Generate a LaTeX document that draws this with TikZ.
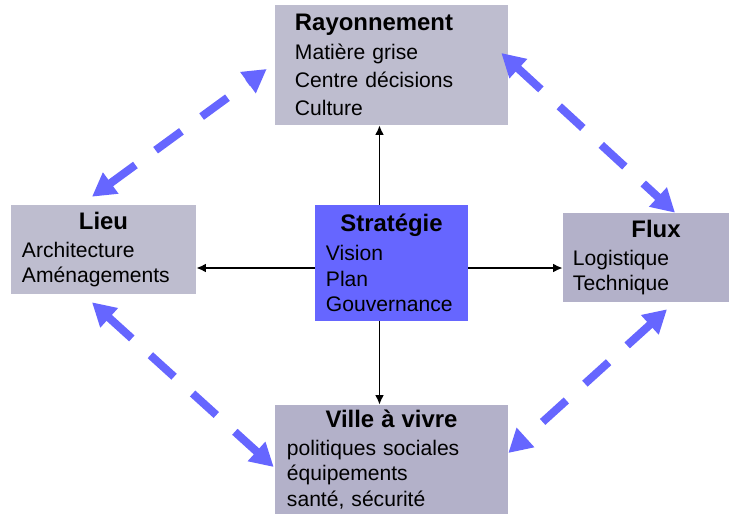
\documentclass[tikz,border=0pt]{standalone}
\usepackage{fontspec}
\setmainfont{Liberation Sans}
\usetikzlibrary{arrows.meta}
\definecolor{grisclair}{RGB}{190,189,207}
\definecolor{grisfonce}{RGB}{179,177,201}
\definecolor{bleu}{RGB}{102,102,255}
\newcommand{\grostitre}{\fontsize{17}{20}\selectfont\bfseries}
\newcommand{\boxtitle}[1]{\makebox[\linewidth]{\grostitre #1}}
\tikzset{
  bloc/.style={font=\fontsize{15}{18}\selectfont, align=left, inner ysep=1pt},
  fleche/.style={-{Latex[length=2.4mm,width=2.2mm]}, line width=1.2pt},
  lien/.style={bleu, line width=2mm, dash pattern=on 8mm off 6.25mm,
    {Triangle[length=5.8mm,width=6.2mm]}-{Triangle[length=5.8mm,width=6.2mm]}}
}

\begin{document}
\begin{tikzpicture}[x=0.025cm,y=-0.025cm]
\useasboundingbox (0,0) rectangle (736,519);

% les cinq blocs
\node[bloc, fill=grisclair, text width=4.825cm, inner xsep=0.5cm, minimum height=3cm] (ray) at (391.5,65)
  {{\grostitre Rayonnement}\\[2pt]Matière grise\\[2pt]Centre décisions\\[2pt]Culture};
\node[bloc, fill=grisclair, text width=4.075cm, inner xsep=0.275cm, minimum height=2.225cm] (lieu) at (103.5,249.5)
  {\boxtitle{Lieu}\\[2pt]Architecture\\Aménagements};
\node[bloc, fill=bleu, text width=3.275cm, inner xsep=0.275cm, minimum height=2.9cm] (strat) at (391.5,263)
  {\boxtitle{Stratégie}\\[2.5pt]Vision\\Plan\\Gouvernance};
\node[bloc, fill=grisfonce, text width=3.65cm, inner xsep=0.25cm, minimum height=2.225cm] (flux) at (646,257.5)
  {\boxtitle{\hspace*{0.5cm}Flux}\\[2pt]Logistique\\Technique};
\node[bloc, fill=grisfonce, text width=5.225cm, inner xsep=0.3cm, minimum height=2.725cm] (ville) at (391.5,459.5)
  {\boxtitle{Ville à vivre}\\[2pt]politiques sociales\\équipements\\santé, sécurité};

% fleches noires
\coordinate (mh) at ([xshift=-0.3cm]strat.north);
\coordinate (mb) at ([xshift=-0.3cm]strat.south);
\coordinate (mg) at ([yshift=-0.125cm]strat.west);
\coordinate (md) at ([yshift=-0.125cm]strat.east);
\draw[fleche] (mh) -- (mh |- ray.south);
\draw[fleche] (mb) -- (mb |- ville.north);
\draw[fleche] (mg) -- (mg -| lieu.east);
\draw[fleche] (md) -- (md -| flux.west);

% liens pointilles
\draw[lien] ([shift={(-11.5,-8)}]lieu.north) -- ([shift={(-8,4)}]ray.west);
\draw[lien] ([shift={(-7,-12)}]ray.east) -- ([shift={(29,0)}]flux.north);
\draw[lien] ([shift={(21,7)}]flux.south) -- ([shift={(0,-6.5)}]ville.east);
\draw[lien] ([shift={(-11.5,8)}]lieu.south) -- ([shift={(-1,7.5)}]ville.west);

\end{tikzpicture}
\end{document}
